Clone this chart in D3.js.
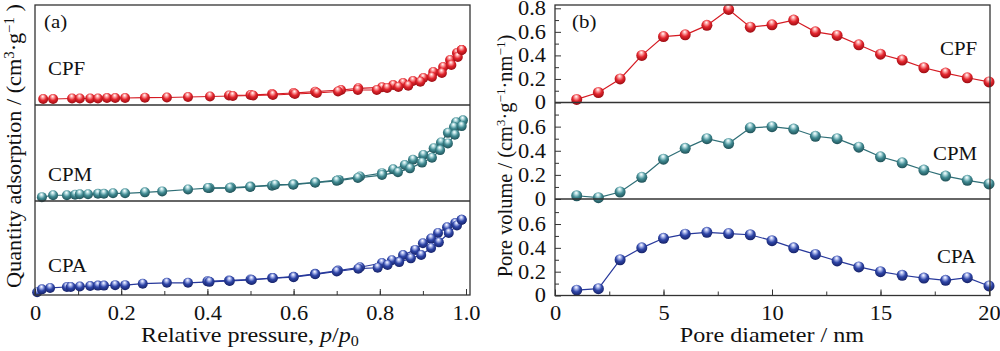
<!DOCTYPE html>
<html>
<head>
<meta charset="utf-8">
<script src="https://cdn.jsdelivr.net/npm/d3@7"></script>
<style>
  body { margin: 0; background: #fff; }
  svg { display: block; font-family: "Liberation Serif", "Times New Roman", serif; }
</style>
</head>
<body>
<div id="chart"></div>
<script>
// ---- data: panel (a) isotherms, relative quantity per sample ----
const cpfAdsP = [0.019, 0.042, 0.086, 0.104, 0.128, 0.146, 0.167, 0.186, 0.209, 0.255, 0.306, 0.355, 0.406, 0.459, 0.506, 0.552, 0.603, 0.654, 0.703, 0.749, 0.793, 0.817, 0.843, 0.866, 0.894, 0.921, 0.944, 0.966, 0.981, 0.99];
const cpfAdsQ = [6, 6, 6.5, 6.5, 6.5, 6.5, 7, 7, 7, 7.3, 7.5, 8, 8.5, 9, 9.5, 10, 11, 12, 13.5, 15, 15, 17, 18, 19.3, 23.3, 28, 32, 40, 48, 55];
const cpfDesP = [0.99, 0.979, 0.963, 0.947, 0.924, 0.901, 0.877, 0.854, 0.831, 0.805, 0.75, 0.71, 0.65, 0.6, 0.55, 0.5, 0.45];
const cpfDesQ = [55, 52, 45, 38, 33, 27, 24, 22, 20, 17.7, 16.7, 15, 13.3, 12, 11, 10, 9.5];

const cpmAdsP = [0.016, 0.042, 0.074, 0.093, 0.104, 0.123, 0.146, 0.16, 0.181, 0.209, 0.255, 0.295, 0.355, 0.401, 0.452, 0.499, 0.557, 0.599, 0.65, 0.70, 0.749, 0.805, 0.842, 0.87, 0.898, 0.921, 0.94, 0.958, 0.974, 0.99];
const cpmAdsQ = [4, 6, 6, 6.5, 7, 7, 7.5, 7.5, 8, 8, 9, 10, 12, 13.5, 13.5, 14.5, 17, 17, 19, 21, 24, 27, 30, 34, 40, 45, 53, 60, 69, 78];
const cpmDesP = [0.993, 0.977, 0.972, 0.958, 0.942, 0.925, 0.901, 0.877, 0.858, 0.831, 0.805, 0.754, 0.705, 0.65, 0.6, 0.55, 0.5, 0.455, 0.405];
const cpmDesQ = [84, 82, 77, 71, 61, 55, 48, 43, 37.5, 33, 29, 25.5, 22, 19.5, 17.5, 16, 15, 14, 13.5];

const cpaAdsP = [0.005, 0.016, 0.035, 0.074, 0.083, 0.104, 0.128, 0.146, 0.16, 0.186, 0.209, 0.25, 0.306, 0.355, 0.405, 0.452, 0.503, 0.552, 0.6, 0.65, 0.70, 0.75, 0.795, 0.818, 0.845, 0.872, 0.896, 0.919, 0.937, 0.96, 0.979, 0.99];
const cpaAdsQ = [3, 6, 7.5, 8.5, 8.5, 9, 9.5, 10, 10, 10.5, 10.5, 12, 13, 13, 14, 15, 16, 18, 19, 22, 25, 28, 29, 32, 35, 39, 42.5, 50, 56, 66, 74, 80];
const cpaDesP = [0.99, 0.975, 0.956, 0.935, 0.919, 0.9, 0.882, 0.854, 0.828, 0.805, 0.754, 0.703, 0.65, 0.6, 0.55, 0.5, 0.45, 0.4];
const cpaDesQ = [80, 76.5, 72, 66, 60, 55, 48, 42.5, 37, 34, 29.5, 26, 22.5, 19.5, 18, 16.5, 15.5, 14.5];

// ---- data: panel (b) pore size distribution ----
const poreDiameter = [1, 2, 3, 4, 5, 6, 7, 8, 9, 10, 11, 12, 13, 14, 15, 16, 17, 18, 19, 20];
const cpfVolume = [0.026, 0.085, 0.20, 0.40, 0.56, 0.575, 0.655, 0.79, 0.64, 0.66, 0.70, 0.60, 0.57, 0.49, 0.41, 0.36, 0.295, 0.25, 0.21, 0.175];
const cpmVolume = [0.027, 0.011, 0.058, 0.18, 0.33, 0.42, 0.50, 0.46, 0.59, 0.60, 0.58, 0.52, 0.50, 0.43, 0.35, 0.30, 0.24, 0.19, 0.155, 0.125];
const cpaVolume = [0.045, 0.057, 0.30, 0.40, 0.48, 0.515, 0.53, 0.52, 0.51, 0.46, 0.40, 0.345, 0.29, 0.24, 0.20, 0.17, 0.146, 0.127, 0.15, 0.08];

const sampleNames = ["CPF", "CPM", "CPA"];
const pressureTicks = [0, 0.2, 0.4, 0.6, 0.8, 1.0];
const diameterTicks = [0, 5, 10, 15, 20];
const volumeTicksTop = [0, 0.2, 0.4, 0.6, 0.8];
const volumeTicks = [0, 0.2, 0.4, 0.6];

// ---- styles / layout ----
const colors = {
  CPF: { line: "#d51a22", base: "#e3262e", light: "#ffb0b0", dark: "#960a10" },
  CPM: { line: "#2e6e76", base: "#418b93", light: "#bfe3e6", dark: "#1c4c52" },
  CPA: { line: "#27389b", base: "#2f46a8", light: "#b9c3f2", dark: "#141f63" },
};
const FONT = 20;
const SX = 1.12;

const svg = d3.select("#chart").append("svg").attr("width", 1000).attr("height", 351);
const defs = svg.append("defs");
Object.entries(colors).forEach(([name, c]) => {
  const g = defs.append("radialGradient").attr("id", `ball-${name}`)
    .attr("cx", "48%").attr("cy", "40%").attr("r", "62%").attr("fx", "45%").attr("fy", "22%");
  g.append("stop").attr("offset", "0%").attr("stop-color", "#ffffff");
  g.append("stop").attr("offset", "20%").attr("stop-color", c.light);
  g.append("stop").attr("offset", "55%").attr("stop-color", c.base);
  g.append("stop").attr("offset", "100%").attr("stop-color", c.dark);
});

function addText(parent, x, y, str, { size = FONT, anchor = "start", rotate = 0, sx = SX } = {}) {
  return parent.append("text")
    .attr("transform", `translate(${x},${y}) rotate(${rotate}) scale(${sx},1)`)
    .attr("font-size", size)
    .attr("text-anchor", anchor)
    .attr("fill", "#111")
    .text(str);
}

function styleAxis(g, labelSize) {
  g.attr("font-family", null).attr("font-size", null);
  g.select(".domain").remove();
  g.selectAll(".tick line").attr("stroke", "#333").attr("stroke-width", 1);
  g.selectAll(".tick text").attr("font-size", labelSize).attr("fill", "#111");
}

function drawSeries(g, pts, x, y, name) {
  g.append("path").datum(pts)
    .attr("fill", "none").attr("stroke", colors[name].line).attr("stroke-width", 1.2)
    .attr("d", d3.line().x((d) => x(d[0])).y((d) => y(d[1])));
}
function drawBalls(g, pts, x, y, name, r) {
  g.selectAll(null).data(pts).enter().append("circle")
    .attr("cx", (d) => x(d[0])).attr("cy", (d) => y(d[1])).attr("r", r)
    .attr("fill", `url(#ball-${name})`);
}
const zip = (a, b) => a.map((v, i) => [v, b[i]]);
const fmt = (d) => (d === 0 ? "0" : d.toFixed(1));

// ================= panel (a) =================
const aLeft = 35, aRight = 470, aTop = 5, aBottom = 295;
const aRows = [[5, 105], [105, 201], [201, 295]];
const aLabelPos = [[48, 75], [48, 181], [48, 272]];
const xA = d3.scaleLinear().domain([0, 1]).range([35, 466]);
const isotherms = [
  [zip(cpfAdsP, cpfAdsQ), zip(cpfDesP, cpfDesQ)],
  [zip(cpmAdsP, cpmAdsQ), zip(cpmDesP, cpmDesQ)],
  [zip(cpaAdsP, cpaAdsQ), zip(cpaDesP, cpaDesQ)],
];
const gA = svg.append("g");

sampleNames.forEach((name, i) => {
  const [top, bottom] = aRows[i];
  const y = d3.scaleLinear().domain([0, 100]).range([bottom, top]);
  const [ads, des] = isotherms[i];
  drawSeries(gA, ads, xA, y, name);
  drawSeries(gA, des, xA, y, name);
  drawBalls(gA, des, xA, y, name, 5);
  drawBalls(gA, ads, xA, y, name, 5);
  addText(gA, aLabelPos[i][0], aLabelPos[i][1], name, { size: 19, sx: 1.1 });
});

gA.append("rect").attr("x", aLeft).attr("y", aTop).attr("width", aRight - aLeft).attr("height", aBottom - aTop)
  .attr("fill", "none").attr("stroke", "#333").attr("stroke-width", 1.3);
aRows.slice(1).forEach(([t]) => {
  gA.append("line").attr("x1", aLeft).attr("x2", aRight).attr("y1", t).attr("y2", t)
    .attr("stroke", "#333").attr("stroke-width", 1.3);
});

const axA = gA.append("g").attr("transform", `translate(0,${aBottom})`)
  .call(d3.axisBottom(xA).tickValues(d3.range(0, 1.01, 0.1)).tickSize(-4).tickFormat(""));
styleAxis(axA, FONT);
const axAmaj = gA.append("g").attr("transform", `translate(0,${aBottom})`)
  .call(d3.axisBottom(xA).tickValues(pressureTicks).tickSize(-6).tickFormat(fmt));
styleAxis(axAmaj, FONT);
axAmaj.selectAll(".tick text").attr("y", 25).attr("dy", 0).attr("transform", `scale(${SX},1)`);

const xlabA = addText(gA, 250, 342, "Relative pressure, ", { size: 21, anchor: "middle", sx: 1.15 });
xlabA.append("tspan").attr("font-style", "italic").text("p");
xlabA.append("tspan").text("/");
xlabA.append("tspan").attr("font-style", "italic").text("p");
xlabA.append("tspan").attr("font-size", 14).attr("dy", 4).text("0");

const ylabA = addText(gA, 20.5, 146, "Quantity adsorption / (cm", { size: 21, anchor: "middle", rotate: -90, sx: 1.06 });
ylabA.append("tspan").attr("font-size", 14).attr("dy", -7).text("3");
ylabA.append("tspan").attr("dy", 7).text("·g");
ylabA.append("tspan").attr("font-size", 14).attr("dy", -7).text("−1");
ylabA.append("tspan").attr("dy", 7).text(" )");

addText(gA, 44, 28, "(a)", { size: 19, sx: 1.1 });

// ================= panel (b) =================
const bLeft = 555, bRight = 990, bTop = 5, bBottom = 295.5;
const bRows = [[5, 102.5], [102.5, 199], [199, 295.5]];
const bYMax = [0.828, 0.80, 0.81];
const bLabelPos = [[940, 55], [933, 160], [937, 263]];
const xB = d3.scaleLinear().domain([0, 20]).range([555, 989]);
const volumes = [cpfVolume, cpmVolume, cpaVolume];
const gB = svg.append("g");

sampleNames.forEach((name, i) => {
  const [top, bottom] = bRows[i];
  const y = d3.scaleLinear().domain([0, bYMax[i]]).range([bottom, top]);
  const pts = zip(poreDiameter, volumes[i]);
  drawSeries(gB, pts, xB, y, name);
  drawBalls(gB, pts, xB, y, name, 5.5);
  addText(gB, bLabelPos[i][0], bLabelPos[i][1], name, { size: 19, sx: 1.1 });

  const major = i === 0 ? volumeTicksTop : volumeTicks;
  const minor = [0.1, 0.3, 0.5, 0.7];
  const axMin = gB.append("g").attr("transform", `translate(${bLeft},0)`)
    .call(d3.axisLeft(y).tickValues(minor).tickSize(-4).tickFormat(""));
  styleAxis(axMin, FONT);
  const axMaj = gB.append("g").attr("transform", `translate(${bLeft},0)`)
    .call(d3.axisLeft(y).tickValues(major).tickSize(-6).tickFormat(fmt));
  styleAxis(axMaj, FONT);
  axMaj.selectAll(".tick text").attr("x", -9 / SX).attr("transform", `scale(${SX},1)`);
});

gB.append("rect").attr("x", bLeft).attr("y", bTop).attr("width", bRight - bLeft).attr("height", bBottom - bTop)
  .attr("fill", "none").attr("stroke", "#333").attr("stroke-width", 1.3);
bRows.slice(1).forEach(([t]) => {
  gB.append("line").attr("x1", bLeft).attr("x2", bRight).attr("y1", t).attr("y2", t)
    .attr("stroke", "#333").attr("stroke-width", 1.3);
});

const axBmin = gB.append("g").attr("transform", `translate(0,${bBottom})`)
  .call(d3.axisBottom(xB).tickValues(d3.range(0, 20.1, 2.5)).tickSize(-4).tickFormat(""));
styleAxis(axBmin, FONT);
const axBmaj = gB.append("g").attr("transform", `translate(0,${bBottom})`)
  .call(d3.axisBottom(xB).tickValues(diameterTicks).tickSize(-6).tickFormat(d3.format("d")));
styleAxis(axBmaj, FONT);
axBmaj.selectAll(".tick text").attr("y", 25).attr("dy", 0).attr("transform", `scale(${SX},1)`);

addText(gB, 772, 342, "Pore diameter / nm", { size: 21, anchor: "middle", sx: 1.15 });

const ylabB = addText(gB, 512, 156, "Pore volume / (cm", { size: 20, anchor: "middle", rotate: -90, sx: 1.02 });
ylabB.append("tspan").attr("font-size", 13).attr("dy", -7).text("3");
ylabB.append("tspan").attr("dy", 7).text("·g");
ylabB.append("tspan").attr("font-size", 13).attr("dy", -7).text("−1");
ylabB.append("tspan").attr("dy", 7).text("·nm");
ylabB.append("tspan").attr("font-size", 13).attr("dy", -7).text("−1");
ylabB.append("tspan").attr("dy", 7).text(")");

addText(gB, 572, 28, "(b)", { size: 19, sx: 1.1 });
</script>
</body>
</html>
